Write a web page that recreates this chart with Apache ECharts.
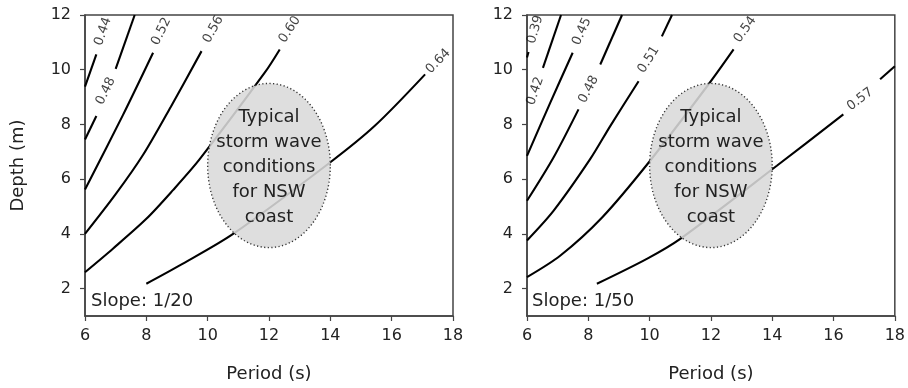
<!DOCTYPE html>
<html lang="en">
<head>
  <meta charset="UTF-8">
  <title>Breaking wave contours</title>
  <style>
    html, body { margin: 0; padding: 0; background: #fff; }
    #chart { width: 908px; height: 388px; }
  </style>
</head>
<body>
  <div id="chart"></div>

  <script src="https://cdn.jsdelivr.net/npm/echarts@6/dist/echarts.min.js"></script>
  <script>
    var periodTicks = [6, 8, 10, 12, 14, 16, 18];
    var depthTicks = [2, 4, 6, 8, 10, 12];

    // slope 1/20 panel: one list of segments per contour level (gaps are where the labels sit)
    var levels20 = ['0.44', '0.48', '0.52', '0.56', '0.60', '0.64'];
    var lines20 = [
      [[[6, 9.38], [6.37, 10.56]]],
      [[[6, 7.45], [6.37, 8.31]], [[7.0, 10.03], [7.62, 12]]],
      [[[6, 5.62], [7.24, 8.35], [8.22, 10.62]]],
      [[[6, 4.0], [7.0, 5.45], [7.9, 6.9], [8.8, 8.65], [9.8, 10.68]]],
      [[[6, 2.6], [6.91, 3.46], [8.0, 4.55], [8.87, 5.6], [9.74, 6.73], [11.86, 9.89], [12.35, 10.74]]],
      [[[8.0, 2.18], [9.09, 2.85], [10.83, 4.0], [13.99, 6.61], [15.45, 7.95], [17.09, 9.83]]]
    ];
    var labelAt20 = [[6.59, 11.4], [6.68, 9.22], [8.49, 11.4], [10.18, 11.47], [12.68, 11.47], [17.52, 10.31]];

    // slope 1/50 panel
    var levels50 = ['0.39', '0.42', '0.45', '0.48', '0.51', '0.54', '0.57'];
    var lines50 = [
      [[[6, 10.45], [6.05, 10.65]]],
      [[[6.52, 10.07], [7.11, 12]]],
      [[[6, 6.85], [6.76, 8.8], [7.49, 10.62]]],
      [[[6, 5.21], [6.87, 6.8], [7.68, 8.55]], [[8.39, 10.19], [9.1, 12]]],
      [[[6, 3.76], [6.87, 4.85], [8.06, 6.73], [8.72, 7.95], [9.64, 9.58]], [[10.4, 11.22], [10.73, 12]]],
      [[[6, 2.42], [7.09, 3.21], [8.45, 4.6], [9.97, 6.61], [11.92, 9.46], [12.74, 10.74]]],
      [[[8.28, 2.18], [9.91, 3.09], [11.0, 3.82], [14.15, 6.49], [16.32, 8.37]], [[17.52, 9.65], [18, 10.13]]]
    ];
    var labelAt50 = [[6.27, 11.47], [6.27, 9.22], [7.79, 11.4], [8.01, 9.28], [9.97, 10.37], [13.12, 11.47], [16.87, 8.92]];

    // storm wave zone: centre period, centre depth, half width, half height
    var stormZone = [12, 6.5, 2, 3];
    var stormText = 'Typical\nstorm wave\nconditions\nfor NSW\ncoast';
    var slopeNames = ['Slope: 1/20', 'Slope: 1/50'];

    var font = 'DejaVu Sans';
    var textColor = '#222';
    var frameColor = '#444';

    var myChart = echarts.init(document.getElementById('chart'));

    function xAxisFor(i) {
      return {
        type: 'value', gridIndex: i, min: 6, max: 18, interval: 2,
        name: 'Period (s)', nameLocation: 'middle', nameGap: 49,
        nameTextStyle: { fontSize: 18, color: textColor, fontFamily: font },
        axisLine: { show: true, lineStyle: { color: frameColor, width: 1.5 } },
        axisTick: { show: true, length: 5, lineStyle: { color: frameColor, width: 1.2 } },
        axisLabel: { fontSize: 16, color: textColor, margin: 12, fontFamily: font,
                     showMinLabel: true, showMaxLabel: true },
        splitLine: { show: false }
      };
    }

    function yAxisFor(i) {
      return {
        type: 'value', gridIndex: i, min: 1, max: 12,
        name: i === 0 ? 'Depth (m)' : '', nameLocation: 'middle', nameGap: 58,
        nameTextStyle: { fontSize: 18, color: textColor, fontFamily: font },
        axisLine: { show: true, lineStyle: { color: frameColor, width: 1.5 } },
        axisTick: { show: true, length: 5, customValues: depthTicks,
                    lineStyle: { color: frameColor, width: 1.2 } },
        axisLabel: { fontSize: 16, color: textColor, margin: 14, fontFamily: font,
                     customValues: depthTicks },
        splitLine: { show: false }
      };
    }

    function lineSeries(lines, i) {
      var out = [];
      lines.forEach(function (segs) {
        segs.forEach(function (seg) {
          out.push({
            type: 'line', xAxisIndex: i, yAxisIndex: i, data: seg,
            smooth: 0.3, symbol: 'none', z: 2, silent: true,
            lineStyle: { color: '#000', width: 2.1 }
          });
        });
      });
      return out;
    }

    function labelSeries(levels, at, i, angles) {
      return {
        id: 'labels' + i, type: 'scatter', xAxisIndex: i, yAxisIndex: i,
        symbolSize: 0, z: 6, silent: true,
        label: { show: true, position: 'inside', formatter: '{b}', fontSize: 13,
                 color: '#111', fontFamily: font },
        data: levels.map(function (lv, k) {
          return { name: lv, value: at[k], label: { rotate: angles ? angles[k] : 0 } };
        })
      };
    }

    function zoneSeries(i) {
      return {
        type: 'custom', xAxisIndex: i, yAxisIndex: i, z: 5, silent: true,
        data: [stormZone],
        renderItem: function (params, api) {
          var cx = api.value(0), cy = api.value(1), rx = api.value(2), ry = api.value(3);
          var pts = [];
          for (var k = 0; k <= 120; k++) {
            var t = k / 120 * Math.PI * 2;
            pts.push(api.coord([cx + rx * Math.cos(t), cy + ry * Math.sin(t)]));
          }
          var c = api.coord([cx, cy]);
          return {
            type: 'group',
            children: [
              { type: 'polygon', shape: { points: pts },
                style: { fill: 'rgba(218,218,218,0.88)', stroke: '#333', lineWidth: 1.4, lineDash: [1.2, 2.4] } },
              { type: 'text', x: c[0], y: c[1] + 2,
                style: { text: stormText, fontSize: 18, lineHeight: 25, fill: textColor,
                         align: 'center', verticalAlign: 'middle', fontFamily: font } }
            ]
          };
        }
      };
    }

    var option = {
      animation: false,
      textStyle: { fontFamily: font },
      grid: [
        { left: 85, top: 15, width: 368, height: 302, show: true, borderColor: frameColor, borderWidth: 1.5 },
        { left: 527, top: 15, width: 368, height: 302, show: true, borderColor: frameColor, borderWidth: 1.5 }
      ],
      xAxis: [xAxisFor(0), xAxisFor(1)],
      yAxis: [yAxisFor(0), yAxisFor(1)],
      graphic: [
        { type: 'text', left: 91, top: 292, style: { text: slopeNames[0], fontSize: 18, fill: textColor, fontFamily: font } },
        { type: 'text', left: 532, top: 292, style: { text: slopeNames[1], fontSize: 18, fill: textColor, fontFamily: font } }
      ],
      series: []
        .concat(lineSeries(lines20, 0))
        .concat(lineSeries(lines50, 1))
        .concat([zoneSeries(0), zoneSeries(1)])
        .concat([labelSeries(levels20, labelAt20, 0), labelSeries(levels50, labelAt50, 1)])
    };

    myChart.setOption(option);

    // turn each label to follow its line, using the last two points of its first segment
    function anglesFor(lines, i) {
      return lines.map(function (segs) {
        var seg = segs[0];
        var a = myChart.convertToPixel({ gridIndex: i }, seg[seg.length - 2]);
        var b = myChart.convertToPixel({ gridIndex: i }, seg[seg.length - 1]);
        return Math.atan2(a[1] - b[1], b[0] - a[0]) * 180 / Math.PI;
      });
    }

    myChart.setOption({
      series: [
        labelSeries(levels20, labelAt20, 0, anglesFor(lines20, 0)),
        labelSeries(levels50, labelAt50, 1, anglesFor(lines50, 1))
      ]
    });
  </script>
</body>
</html>
